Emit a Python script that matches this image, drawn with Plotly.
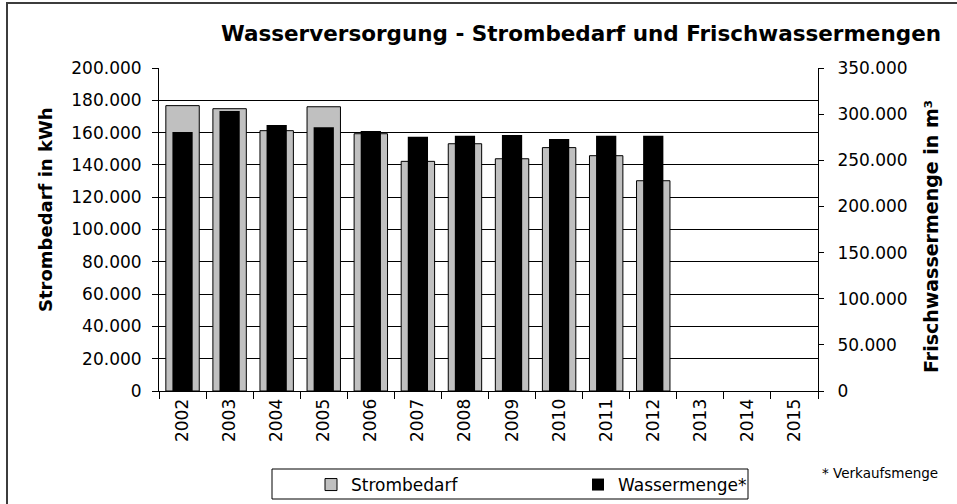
import plotly.graph_objects as go

years = ["2002", "2003", "2004", "2005", "2006", "2007", "2008", "2009",
         "2010", "2011", "2012", "2013", "2014", "2015"]
strombedarf = [176700, 174800, 161200, 176000, 159300, 142200, 153100,
               143800, 150700, 145700, 130200, None, None, None]
wassermenge = [280700, 303400, 288200, 285700, 281700, 275600, 276700,
               277400, 273100, 276700, 276700, None, None, None]

FONT = "DejaVu Sans"
W, H = 957, 504
L, R, T, B = 159, 818, 68, 391  # plot area in pixels


def px_x(p):
    return (p - L) / (R - L)


def px_y(p):
    return (B - p) / (B - T)


fig = go.Figure()
fig.add_trace(go.Bar(
    x=years, y=strombedarf, name="Strombedarf", yaxis="y",
    width=0.71, marker=dict(color="#C0C0C0", line=dict(color="#000000", width=1)),
))
fig.add_trace(go.Bar(
    x=years, y=wassermenge, name="Wassermenge*", yaxis="y2",
    width=0.43, marker=dict(color="#000000", line=dict(color="#000000", width=0)),
))

fig.update_layout(
    width=W, height=H,
    margin=dict(l=L, r=W - R, t=T, b=H - B, pad=0),
    paper_bgcolor="white", plot_bgcolor="white",
    separators=",.",
    barmode="overlay",
    font=dict(family=FONT, size=17, color="black"),
    title=dict(
        text="<b>Wasserversorgung - Strombedarf und Frischwassermengen</b>",
        font=dict(family=FONT, size=21.5, color="black"),
        xref="paper", x=px_x(581), xanchor="center",
        yref="container", y=1 - 33 / H, yanchor="middle",
    ),
    xaxis=dict(
        type="category", range=[-0.5, 13.5],
        showline=True, linecolor="black", linewidth=1,
        ticks="outside", ticklen=7, tickcolor="black", tickson="boundaries",
        tickangle=-90, tickfont=dict(size=17),
        showgrid=False, zeroline=False,
    ),
    yaxis=dict(
        range=[0, 200000], dtick=20000, tickformat=",d",
        showline=True, linecolor="black", linewidth=1,
        ticks="outside", ticklen=6, tickcolor="black", ticklabelstandoff=7,
        showgrid=True, gridcolor="#000000", gridwidth=1,
        zeroline=False, tickfont=dict(size=17),
    ),
    yaxis2=dict(
        range=[0, 350000], dtick=50000, tickformat=",d",
        overlaying="y", side="right",
        showline=True, linecolor="black", linewidth=1,
        ticks="outside", ticklen=5, tickcolor="black", ticklabelstandoff=10,
        showgrid=False, zeroline=False, tickfont=dict(size=17),
    ),
    showlegend=True,
    legend=dict(
        orientation="h",
        xref="container", x=311 / W, xanchor="left",
        yref="container", y=1 - 467 / H, yanchor="top",
        bgcolor="rgba(0,0,0,0)", borderwidth=0,
        entrywidth=222, entrywidthmode="pixels",
        font=dict(size=17, family=FONT),
        traceorder="normal",
    ),
)

# Legend box and outer frame
fig.add_shape(type="rect", xref="paper", yref="paper",
              x0=px_x(272), x1=px_x(748), y0=px_y(499), y1=px_y(469),
              line=dict(color="black", width=1), fillcolor="rgba(0,0,0,0)", layer="below")
fig.add_shape(type="rect", xref="paper", yref="paper",
              x0=px_x(7), x1=px_x(975), y0=px_y(520), y1=px_y(3),
              line=dict(color="#3c3c3c", width=2), fillcolor="rgba(0,0,0,0)", layer="below")

# Axis titles
fig.add_annotation(text="<b>Strombedarf in kWh</b>", xref="paper", yref="paper",
                   x=px_x(45), y=px_y(210), textangle=-90, showarrow=False,
                   xanchor="center", yanchor="middle",
                   font=dict(family=FONT, size=18, color="black"))
fig.add_annotation(text="<b>Frischwassermenge in m³</b>", xref="paper", yref="paper",
                   x=px_x(931), y=px_y(237), textangle=-90, showarrow=False,
                   xanchor="center", yanchor="middle",
                   font=dict(family=FONT, size=19, color="black"))
fig.add_annotation(text="* Verkaufsmenge", xref="paper", yref="paper",
                   x=px_x(820), y=px_y(473), xanchor="left", yanchor="middle",
                   showarrow=False,
                   font=dict(family=FONT, size=13.5, color="black"))

fig.write_html("out.html", config={"displayModeBar": False},
               post_script="document.body.style.margin='0';")
